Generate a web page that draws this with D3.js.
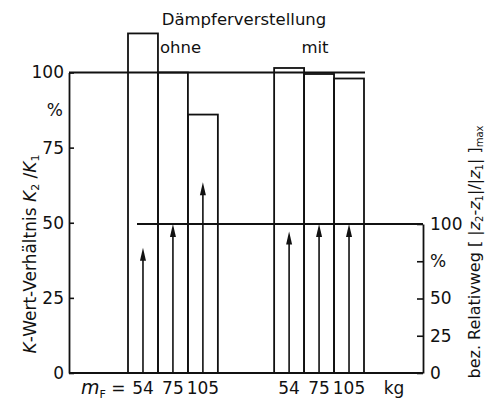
<!DOCTYPE html>
<html><head><meta charset="utf-8">
<script src="https://cdn.jsdelivr.net/npm/d3@7"></script>
<style>
body{margin:0;background:#fff;}
text{font-family:"DejaVu Sans",sans-serif;fill:#111;}
</style></head>
<body><svg id="c" width="488" height="400"></svg>
<script>
const groups = ["ohne", "mit"];
const masses = ["54", "75", "105"];
const kRatioOhne = [113, 100, 86];
const kRatioMit = [101.5, 99.5, 98];
const relPathOhne = [84, 100, 128];
const relPathMit = [95, 100, 100];
const leftTicks = [0, 25, 50, 75, 100];
const rightTicks = [0, 25, 50, 75, 100];
const title = "Dämpferverstellung";

const kRatio = {ohne: kRatioOhne, mit: kRatioMit};
const relPath = {ohne: relPathOhne, mit: relPathMit};

const svg = d3.select("#c");
const ink = "#111";
const xL = 69, xR = 423, y0 = 373;

const yLeft = d3.scaleLinear().domain([0, 100]).range([y0, 72.5]);
const yRight = d3.scaleLinear().domain([0, 100]).range([y0, 224]);
const xGroup = d3.scaleBand().domain(groups).range([128, 364]).paddingInner(0.385);
const xBar = d3.scaleBand().domain(masses).range([0, xGroup.bandwidth()]);

// bars
groups.forEach(g => {
  svg.append("g").selectAll("rect").data(masses.map((m, i) => ({m, v: kRatio[g][i]})))
    .join("rect")
    .attr("x", d => xGroup(g) + xBar(d.m))
    .attr("width", xBar.bandwidth())
    .attr("y", d => yLeft(d.v))
    .attr("height", d => y0 - yLeft(d.v))
    .attr("fill", "none").attr("stroke", ink).attr("stroke-width", 1.8);
});

// reference line left 100
svg.append("line").attr("x1", xL).attr("x2", xGroup("mit") + xGroup.bandwidth() + 1)
  .attr("y1", yLeft(100)).attr("y2", yLeft(100)).attr("stroke", ink).attr("stroke-width", 1.8);
// reference line right 100
svg.append("line").attr("x1", xGroup("ohne") + 9).attr("x2", xR)
  .attr("y1", yRight(100)).attr("y2", yRight(100)).attr("stroke", ink).attr("stroke-width", 1.8);

// arrows
groups.forEach(g => {
  masses.forEach((m, i) => {
    const cx = xGroup(g) + xBar(m) + xBar.bandwidth() / 2;
    const tip = yRight(relPath[g][i]);
    svg.append("line").attr("x1", cx).attr("x2", cx).attr("y1", y0).attr("y2", tip + 8)
      .attr("stroke", ink).attr("stroke-width", 1.6);
    svg.append("path").attr("d", `M${cx},${tip} L${cx - 3},${tip + 13} L${cx + 3},${tip + 13} Z`)
      .attr("fill", ink);
  });
});

// left axis
const gl = svg.append("g").attr("transform", `translate(${xL},0)`)
  .call(d3.axisLeft(yLeft).tickValues(leftTicks).tickSizeInner(-5).tickSizeOuter(0).tickPadding(5));
gl.select(".domain").attr("stroke", ink).attr("stroke-width", 1.8);
gl.selectAll(".tick line").attr("stroke", ink).attr("stroke-width", 1.6);
gl.selectAll(".tick text").attr("font-size", 17).attr("fill", ink).style("font-family", "DejaVu Sans");
svg.append("text").attr("x", xL - 6).attr("y", yLeft(87.5)).attr("dy", "0.35em")
  .attr("text-anchor", "end").attr("font-size", 17).text("%");

// right axis
const gr = svg.append("g").attr("transform", `translate(${xR},0)`)
  .call(d3.axisRight(yRight).tickValues(rightTicks).tickSizeInner(-6).tickSizeOuter(0).tickPadding(7)
    .tickFormat(d => d === 75 ? "%" : d));
gr.select(".domain").attr("stroke", ink).attr("stroke-width", 1.8);
gr.selectAll(".tick line").attr("stroke", ink).attr("stroke-width", 1.6);
gr.selectAll(".tick text").attr("font-size", 17).attr("fill", ink).style("font-family", "DejaVu Sans");

// bottom line
svg.append("line").attr("x1", xL).attr("x2", xR).attr("y1", y0).attr("y2", y0)
  .attr("stroke", ink).attr("stroke-width", 1.8);

// bottom labels
groups.forEach(g => {
  masses.forEach(m => {
    svg.append("text").attr("x", xGroup(g) + xBar(m) + xBar.bandwidth() / 2).attr("y", 394)
      .attr("text-anchor", "middle").attr("font-size", 17).text(m);
  });
});
const mf = svg.append("text").attr("x", 81).attr("y", 394).attr("font-size", 17);
mf.append("tspan").attr("font-style", "italic").attr("font-size", 19).text("m");
mf.append("tspan").attr("font-size", 11).attr("dy", 4).text("F");
mf.append("tspan").attr("dy", -4).text(" =");
svg.append("text").attr("x", 394).attr("y", 394).attr("text-anchor", "middle").attr("font-size", 17).text("kg");

// titles
svg.append("text").attr("x", 244).attr("y", 25).attr("text-anchor", "middle").attr("font-size", 16.5).text(title);
svg.append("text").attr("x", 160).attr("y", 53).attr("font-size", 16.5).text(groups[0]);
svg.append("text").attr("x", 315).attr("y", 53).attr("text-anchor", "middle").attr("font-size", 16.5).text(groups[1]);

// left axis title
const lt = svg.append("text").attr("transform", "translate(36,254) rotate(-90)")
  .attr("text-anchor", "middle").attr("font-size", 17);
lt.append("tspan").attr("font-style", "italic").text("K");
lt.append("tspan").text("-Wert-Verhältnis ");
lt.append("tspan").attr("font-style", "italic").text("K");
lt.append("tspan").attr("font-size", 11).attr("dy", 3).text("2");
lt.append("tspan").attr("dy", -3).text(" /");
lt.append("tspan").attr("font-style", "italic").text("K");
lt.append("tspan").attr("font-size", 11).attr("dy", 3).text("1");

// right axis title
const rt = svg.append("text").attr("transform", "translate(480,252) rotate(-90)")
  .attr("text-anchor", "middle").attr("font-size", 16);
rt.append("tspan").text("bez. Relativweg [ |");
rt.append("tspan").attr("font-style", "italic").text("z");
rt.append("tspan").attr("font-size", 10).attr("dy", 3).text("2");
rt.append("tspan").attr("dy", -3).text("-");
rt.append("tspan").attr("font-style", "italic").text("z");
rt.append("tspan").attr("font-size", 10).attr("dy", 3).text("1");
rt.append("tspan").attr("dy", -3).text("|/|");
rt.append("tspan").attr("font-style", "italic").text("z");
rt.append("tspan").attr("font-size", 10).attr("dy", 3).text("1");
rt.append("tspan").attr("dy", -3).text("| ]");
rt.append("tspan").attr("font-size", 10).attr("dy", 3).text("max");
</script></body></html>
